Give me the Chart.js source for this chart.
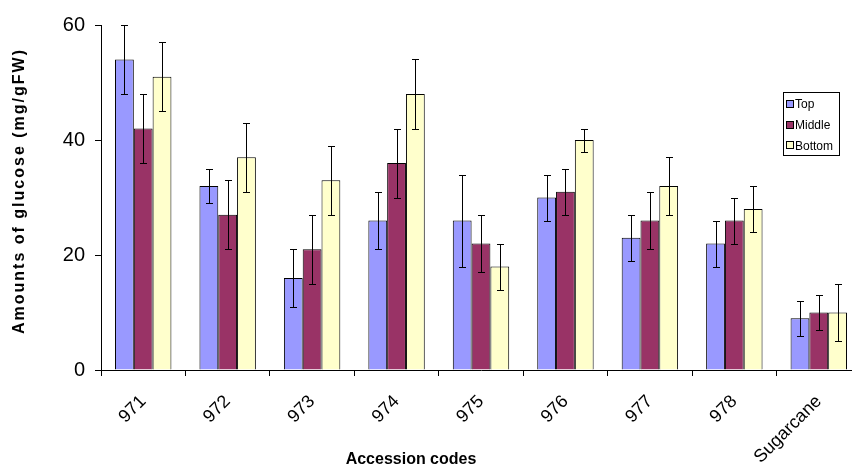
<!DOCTYPE html>
<html><head><meta charset="utf-8">
<script src="https://cdn.jsdelivr.net/npm/chart.js@4"></script>
<style>
html,body{margin:0;padding:0;background:#fff;overflow:hidden;width:852px;height:469px}
#wrap{position:relative;width:870px;height:469px}
canvas{display:block}
</style></head>
<body><div id="wrap"><canvas id="c" width="870" height="469"></canvas></div>
<script>
const categories = ['971','972','973','974','975','976','977','978','Sugarcane'];
const topValues    = [54,32,16,26,26,30,23,22,9];
const topErrors    = [6,3,5,5,8,4,4,4,3];
const middleValues = [42,27,21,36,22,31,26,26,10];
const middleErrors = [6,6,6,6,5,4,5,4,3];
const bottomValues = [51,37,33,48,18,40,32,28,10];
const bottomErrors = [6,6,6,6,4,2,5,4,5];
const seriesNames  = ['Top','Middle','Bottom'];
const yTickValues  = [0,20,40,60];
const xTitleText = 'Accession codes';
const yTitleText = 'Amounts of glucose (mg/gFW)';

const FONT = '"Liberation Sans", Arial, sans-serif';

const errorBarPlugin = {
  id: 'errorBars',
  afterDatasetsDraw(chart) {
    const ctx = chart.ctx, ys = chart.scales.y;
    ctx.save();
    ctx.strokeStyle = '#000';
    ctx.lineWidth = 1;
    chart.data.datasets.forEach((ds, i) => {
      const meta = chart.getDatasetMeta(i);
      meta.data.forEach((bar, j) => {
        const v = ds.data[j], e = ds.errors[j];
        const x = Math.round(bar.x) + 0.5;
        const y1 = Math.round(ys.getPixelForValue(v + e)) + 0.5;
        const y2 = Math.round(ys.getPixelForValue(v - e)) + 0.5;
        ctx.beginPath();
        ctx.moveTo(x, y1); ctx.lineTo(x, y2);
        ctx.moveTo(x - 3.5, y1); ctx.lineTo(x + 3.5, y1);
        ctx.moveTo(x - 3.5, y2); ctx.lineTo(x + 3.5, y2);
        ctx.stroke();
      });
    });
    ctx.restore();
  }
};

const boxLegendPlugin = {
  id: 'boxLegend',
  afterDraw(chart) {
    const ctx = chart.ctx;
    const bx = 783.5, by = 92.5, bw = 56, bh = 63;
    ctx.save();
    ctx.fillStyle = '#fff';
    ctx.fillRect(bx, by, bw, bh);
    ctx.strokeStyle = '#000';
    ctx.lineWidth = 1;
    ctx.strokeRect(bx, by, bw, bh);
    ctx.font = '12px ' + FONT;
    ctx.textBaseline = 'middle';
    ctx.textAlign = 'left';
    chart.data.datasets.forEach((ds, i) => {
      const cy = 104 + i * 20.7;
      ctx.fillStyle = ds.backgroundColor;
      ctx.fillRect(786.5, Math.round(cy - 4) + 0.5, 7, 7);
      ctx.strokeRect(786.5, Math.round(cy - 4) + 0.5, 7, 7);
      ctx.fillStyle = '#000';
      ctx.fillText(ds.label, 795, cy + 1);
    });
    ctx.restore();
  }
};

const axisTitlePlugin = {
  id: 'axisTitles',
  afterDraw(chart) {
    const ctx = chart.ctx;
    ctx.save();
    ctx.fillStyle = '#000';
    ctx.font = 'bold 16px ' + FONT;
    ctx.textAlign = 'center';
    ctx.textBaseline = 'middle';
    ctx.fillText(chart.options.scales.x.title.text, 411, 460);
    ctx.translate(20, 191);
    ctx.rotate(-Math.PI / 2);
    if ('letterSpacing' in ctx) ctx.letterSpacing = '2px';
    ctx.fillText(chart.options.scales.y.title.text, 0, 0);
    ctx.restore();
  }
};

const colors = ['#9999FF', '#993366', '#FFFFCC'];
const values = [topValues, middleValues, bottomValues];
const errors = [topErrors, middleErrors, bottomErrors];

new Chart(document.getElementById('c'), {
  type: 'bar',
  data: {
    labels: categories,
    datasets: seriesNames.map((name, i) => ({
      label: name,
      data: values[i],
      errors: errors[i],
      backgroundColor: colors[i],
      borderColor: '#000',
      borderWidth: 1,
      barPercentage: 1,
      categoryPercentage: 0.668
    }))
  },
  options: {
    responsive: false,
    animation: false,
    devicePixelRatio: 1,
    layout: { padding: { top: 25, right: 9, left: 0, bottom: 0 } },
    plugins: { legend: { display: false }, tooltip: { enabled: false } },
    scales: {
      x: {
        title: { display: false, text: xTitleText },
        grid: { display: true, drawOnChartArea: false, drawTicks: true, tickLength: 6, color: '#000', offset: true },
        border: { display: true, color: '#000', width: 1 },
        ticks: { color: '#000', font: { family: FONT, size: 18 }, maxRotation: 45, minRotation: 45, autoSkip: false, padding: 15 },
        afterFit(s) { s.height = 99; }
      },
      y: {
        min: 0, max: 60,
        title: { display: false, text: yTitleText },
        grid: { display: true, drawOnChartArea: false, drawTicks: true, tickLength: 6, color: '#000' },
        border: { display: true, color: '#000', width: 1 },
        afterBuildTicks(s) { s.ticks = yTickValues.map(v => ({ value: v })); },
        ticks: { color: '#000', font: { family: FONT, size: 20 }, padding: 10 },
        afterFit(s) { s.width = 101; }
      }
    }
  },
  plugins: [errorBarPlugin, boxLegendPlugin, axisTitlePlugin]
});
</script>
</body></html>
